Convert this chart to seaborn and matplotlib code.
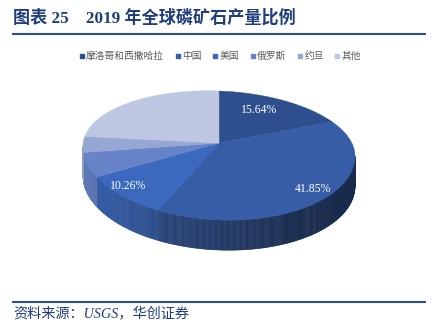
import numpy as np
import matplotlib
matplotlib.use("Agg")
import matplotlib.pyplot as plt
from matplotlib.patches import Polygon
from matplotlib.collections import PolyCollection
from matplotlib.lines import Line2D
import seaborn as sns

# 2019 world phosphate rock production shares (%)
countries = ["摩洛哥和西撒哈拉", "中国", "美国", "俄罗斯", "约旦", "其他"]
shares = [15.64, 41.85, 10.26, 5.77, 4.06, 22.42]
labelled = [True, True, True, False, False, False]
colors = ["#2E4F8D", "#365DA6", "#3B69BD", "#6884C8", "#97A7D4", "#BDC7E2"]

sns.set_theme(style="white")
plt.rcParams["font.family"] = ["Noto Sans CJK SC", "DejaVu Sans"]

fig = plt.figure(figsize=(4.48, 3.28), dpi=100)
ax = fig.add_axes([0, 0, 1, 1])
ax.set_xlim(0, 448)
ax.set_ylim(328, 0)
ax.axis("off")

# geometry of the tilted pie (pixel space)
cx, a = 219.0, 136.0
b_back, b_front = 60.0, 69.0
apex = np.array([219.0, 143.0])
depth = 30.0


def rim(theta_deg, drop=0.0):
    t = np.radians(theta_deg)
    c, s = np.cos(t), np.sin(t)
    cy = 151.0 + 5.0 * c
    b = np.where(s > 0, b_back, b_front)
    return cx + a * c, cy - b * s + drop


def shade(theta_deg):
    c = np.cos(np.radians(theta_deg))
    return np.interp(c, [-1.0, -0.55, 0.55, 1.0], [0.92, 0.76, 0.48, 0.46])


vals = np.array(shares)
cum = np.concatenate([[0], np.cumsum(vals) / vals.sum()])
starts = 90 - cum[:-1] * 360
ends = 90 - cum[1:] * 360

# side band (front half only: math angles between -180 and 0)
for st, en, col in zip(starts, ends, colors):
    lo, hi = max(en, -180.0), min(st, 0.0)
    if hi <= lo:
        continue
    angs = np.linspace(hi, lo, max(int((hi - lo) * 2), 2))
    base = np.array(matplotlib.colors.to_rgb(col))
    quads, fcs = [], []
    for t0, t1 in zip(angs[:-1], angs[1:]):
        x0, y0 = rim(t0)
        x1, y1 = rim(t1)
        quads.append([(x0, y0), (x1, y1), (x1, y1 + depth), (x0, y0 + depth)])
        fcs.append(np.clip(base * shade((t0 + t1) / 2), 0, 1))
    ax.add_collection(PolyCollection(quads, facecolors=fcs, edgecolors=fcs, linewidths=0.4))

# top face
for st, en, col in zip(starts, ends, colors):
    angs = np.linspace(st, en, 120)
    xs, ys = rim(angs)
    pts = np.vstack([[apex], np.column_stack([xs, ys])])
    ax.add_patch(Polygon(pts, closed=True, facecolor=col, edgecolor=col, lw=0.3))

# value labels
label_frac = [0.62, 0.92, 0.94]
k = 0
for st, en, v, show in zip(starts, ends, shares, labelled):
    if not show:
        continue
    mid = (st + en) / 2
    rx, ry = rim(mid)
    f = label_frac[k]
    k += 1
    lx = apex[0] + f * (rx - apex[0])
    ly = apex[1] + f * (ry - apex[1]) - 7
    ax.text(lx, ly, f"{v:.2f}%", color="white", fontsize=8.5, ha="center", va="center",
            family=["Liberation Serif", "Noto Sans CJK SC"])

# legend
handles = [Line2D([], [], marker="s", linestyle="none", markersize=3.5,
                  markerfacecolor=c, markeredgecolor=c) for c in colors]
fig.legend(handles, countries, loc="center", bbox_to_anchor=(0.49, 0.829), ncol=6,
           frameon=False, fontsize=7, handletextpad=0.05, columnspacing=1.0,
           handlelength=0.8, labelcolor="#595959")

# title, rules and source
navy = "#1F3D7A"
fig.text(13 / 448, 1 - 18 / 328, "图表 25　2019 年全球磷矿石产量比例", color=navy,
         fontsize=12.3, fontweight="bold", va="center", ha="left",
         family=["Liberation Serif", "Noto Sans CJK SC"])
ax.plot([12, 426], [34, 34], color="#2B4F90", lw=1.5, solid_capstyle="butt")
ax.plot([12, 426], [302, 302], color="#2B4F90", lw=1.5, solid_capstyle="butt")
fig.text(13 / 448, 1 - 314 / 328, "资料来源：USGS，华创证券", color=navy,
         fontsize=10.2, style="italic", va="center", ha="left",
         family=["Liberation Serif", "Noto Sans CJK SC"])

fig.savefig("out.png", dpi=100)
